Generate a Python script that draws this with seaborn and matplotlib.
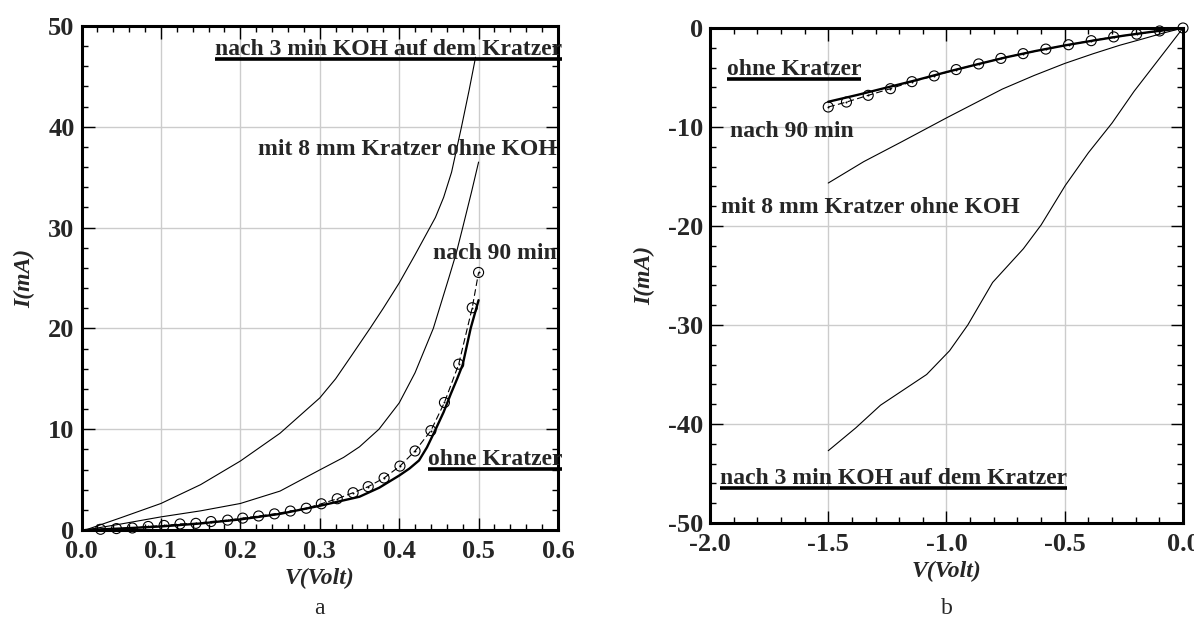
import matplotlib
matplotlib.use("Agg")
import matplotlib.pyplot as plt
import matplotlib.ticker as mticker
import numpy as np
import seaborn as sns

# ---- panel a: forward characteristics ----
v_koh_a = [0.005, 0.05, 0.1, 0.15, 0.2, 0.25, 0.3, 0.32, 0.34, 0.3633, 0.38, 0.40, 0.42,
           0.4456, 0.456, 0.466, 0.4785, 0.488, 0.4962]
i_koh_a = [0.0, 1.23, 2.63, 4.5, 6.84, 9.6, 13.1, 15.0, 17.3, 20.0, 22.0, 24.5, 27.3,
           31.0, 33.0, 35.5, 40.0, 43.6, 46.9]

v_8mm_a = [0.005, 0.05, 0.1, 0.15, 0.2, 0.25, 0.3, 0.33, 0.35, 0.3746, 0.4, 0.42, 0.443, 0.4625,
           0.472, 0.48, 0.491, 0.5]
i_8mm_a = [0.0, 0.6, 1.3, 1.9, 2.63, 3.86, 5.96, 7.2, 8.25, 10.0, 12.6, 15.6, 20.0, 25.0,
           27.5, 30.0, 33.5, 36.5]

v_ohne_a = [0.005, 0.05, 0.1, 0.15, 0.2, 0.25, 0.3, 0.35, 0.375, 0.4, 0.413, 0.425, 0.435, 0.446,
            0.456, 0.465, 0.473, 0.48, 0.49, 0.5]
i_ohne_a = [0.0, 0.15, 0.35, 0.65, 1.05, 1.6, 2.4, 3.3, 4.2, 5.4, 6.1, 6.9, 8.2, 10.0,
            11.7, 13.5, 15.0, 16.4, 20.0, 22.8]

v_90_a = [0.024, 0.044, 0.064, 0.084, 0.104, 0.124, 0.144, 0.163, 0.184, 0.203, 0.223, 0.243, 0.263,
          0.283, 0.302, 0.322, 0.342, 0.361, 0.381, 0.401, 0.420, 0.440, 0.457, 0.475, 0.492, 0.5]
i_90_a = [0.07, 0.14, 0.2, 0.35, 0.45, 0.6, 0.66, 0.84, 0.98, 1.18, 1.39, 1.6, 1.88,
          2.16, 2.6, 3.1, 3.7, 4.3, 5.16, 6.34, 7.84, 9.86, 12.65, 16.45, 22.05, 25.55]

# ---- panel b: reverse characteristics ----
v_koh_b = [-1.5, -1.384, -1.279, -1.084, -0.987, -0.91, -0.805, -0.675, -0.6, -0.4976, -0.4, -0.30, -0.207, -0.11, 0.0]
i_koh_b = [-42.7, -40.4, -38.1, -35.0, -32.6, -30.0, -25.7, -22.3, -19.9, -15.9, -12.6, -9.6, -6.4, -3.4, 0.0]

v_8mm_b = [-1.5, -1.35, -1.19, -1.0, -0.88, -0.764, -0.63, -0.5, -0.38, -0.267, -0.17, -0.082, 0.0]
i_8mm_b = [-15.66, -13.5, -11.5, -9.08, -7.6, -6.17, -4.8, -3.58, -2.6, -1.74, -1.1, -0.5, 0.0]

v_ohne_b = [-1.5, -1.375, -1.25, -1.125, -1.0, -0.875, -0.75, -0.625, -0.5, -0.375, -0.25, -0.125, 0.0]
i_ohne_b = [-7.45, -6.75, -6.0, -5.25, -4.45, -3.7, -2.97, -2.33, -1.76, -1.25, -0.77, -0.36, 0.0]

v_90_b = [-1.5, -1.423, -1.331, -1.237, -1.146, -1.052, -0.959, -0.864, -0.770,
          -0.676, -0.580, -0.484, -0.388, -0.293, -0.196, -0.099, 0.0]
i_90_b = [-7.98, -7.48, -6.8, -6.13, -5.42, -4.84, -4.2, -3.63, -3.07,
          -2.59, -2.13, -1.69, -1.28, -0.9, -0.62, -0.3, 0.0]

labels_a = [("nach 3 min KOH auf dem Kratzer", 0.1675, 47.1, True),
            ("mit 8 mm Kratzer ohne KOH", 0.2227, 37.2, False),
            ("nach 90 min", 0.443, 26.85, False),
            ("ohne Kratzer", 0.436, 6.4, True)]
labels_b = [("ohne Kratzer", -1.93, -4.78, True),
            ("nach 90 min", -1.914, -10.98, False),
            ("mit 8 mm Kratzer ohne KOH", -1.955, -18.67, False),
            ("nach 3 min KOH auf dem Kratzer", -1.958, -46.05, True)]

sns.set_theme(style="ticks")
plt.rcParams['font.family'] = ['Liberation Serif', 'DejaVu Serif']

FS = 17     # annotations / axis titles
TFS = 19    # tick labels
fig = plt.figure(figsize=(11.94, 6.3), dpi=100)
ax1 = fig.add_axes([81.5/1194, 100/630, 476.5/1194, 504/630])
ax2 = fig.add_axes([710/1194, 107/630, 473/1194, 495/630])


def draw_curves(ax, koh, mm8, ohne, n90):
    sns.lineplot(x=koh[0], y=koh[1], ax=ax, color='black', lw=0.8, sort=False, estimator=None)
    sns.lineplot(x=mm8[0], y=mm8[1], ax=ax, color='black', lw=0.8, sort=False, estimator=None)
    sns.lineplot(x=ohne[0], y=ohne[1], ax=ax, color='black', lw=1.7, sort=False, estimator=None)
    sns.lineplot(x=n90[0], y=n90[1], ax=ax, color='black', lw=0.8, sort=False, estimator=None,
                 linestyle=(0, (6, 3)))
    sns.scatterplot(x=n90[0], y=n90[1], ax=ax, s=52, marker='o', facecolor='none',
                    edgecolor='black', linewidth=0.8, clip_on=False, zorder=4)
    sns.scatterplot(x=n90[0], y=n90[1], ax=ax, s=2, marker='o', color='black',
                    linewidth=0, clip_on=False, zorder=4)


def style_axes(ax, xlim, ylim, xmaj, xmin, ymaj, ymin):
    ax.set_xlim(*xlim)
    ax.set_ylim(*ylim)
    ax.xaxis.set_major_locator(mticker.MultipleLocator(xmaj))
    ax.xaxis.set_minor_locator(mticker.MultipleLocator(xmin))
    ax.yaxis.set_major_locator(mticker.MultipleLocator(ymaj))
    ax.yaxis.set_minor_locator(mticker.MultipleLocator(ymin))
    ax.xaxis.set_major_formatter(mticker.FormatStrFormatter('%.1f'))
    ax.yaxis.set_major_formatter(mticker.FormatStrFormatter('%d'))
    ax.grid(True, which='major', color='#cccccc', lw=1.0)
    ax.set_axisbelow(True)
    ax.tick_params(which='both', direction='in', top=True, right=True, color='black', width=1.0)
    ax.tick_params(which='major', length=9, pad=5, labelsize=TFS)
    ax.tick_params(axis='x', which='major', pad=7)
    ax.tick_params(which='minor', length=4.5)
    for lab in ax.get_xticklabels() + ax.get_yticklabels():
        lab.set_fontweight('bold')
    for sp in ax.spines.values():
        sp.set_linewidth(2.2)
        sp.set_color('black')
    ax.set_xlabel('V(Volt)', fontsize=FS, fontweight='bold', fontstyle='italic', labelpad=4)
    ax.set_ylabel('I(mA)', fontsize=FS, fontweight='bold', fontstyle='italic', labelpad=9)


draw_curves(ax1, (v_koh_a, i_koh_a), (v_8mm_a, i_8mm_a), (v_ohne_a, i_ohne_a), (v_90_a, i_90_a))
draw_curves(ax2, (v_koh_b, i_koh_b), (v_8mm_b, i_8mm_b), (v_ohne_b, i_ohne_b), (v_90_b, i_90_b))
style_axes(ax1, (0, 0.6), (0, 50), 0.1, 0.02, 10, 2)
style_axes(ax2, (-2.0, 0.0), (-50, 0), 0.5, 0.1, 10, 2)

texts = []
for ax, labels in ((ax1, labels_a), (ax2, labels_b)):
    for s, x, y, ul in labels:
        t = ax.text(x, y, s, fontsize=FS, fontweight='bold', ha='left', va='baseline',
                    clip_on=False, zorder=5)
        texts.append((ax, t, x, y, ul))

fig.canvas.draw()
for ax, t, x, y, ul in texts:
    if not ul:
        continue
    bb = t.get_window_extent()
    base = ax.transData.transform((x, y))[1]
    inv = ax.transAxes.inverted()
    p0 = inv.transform((bb.x0, base - 4))
    p1 = inv.transform((bb.x1, base - 4))
    ax.plot([p0[0], p1[0]], [p0[1], p1[1]], transform=ax.transAxes, color='black',
            lw=2.6, solid_capstyle='butt', clip_on=False, zorder=5)

fig.text((81.5 + 238) / 1194, 1 - 608/630, 'a', fontsize=FS, ha='center', va='center')
fig.text((710 + 236.5) / 1194, 1 - 608/630, 'b', fontsize=FS, ha='center', va='center')

fig.savefig('out.png', dpi=100, facecolor='white')
